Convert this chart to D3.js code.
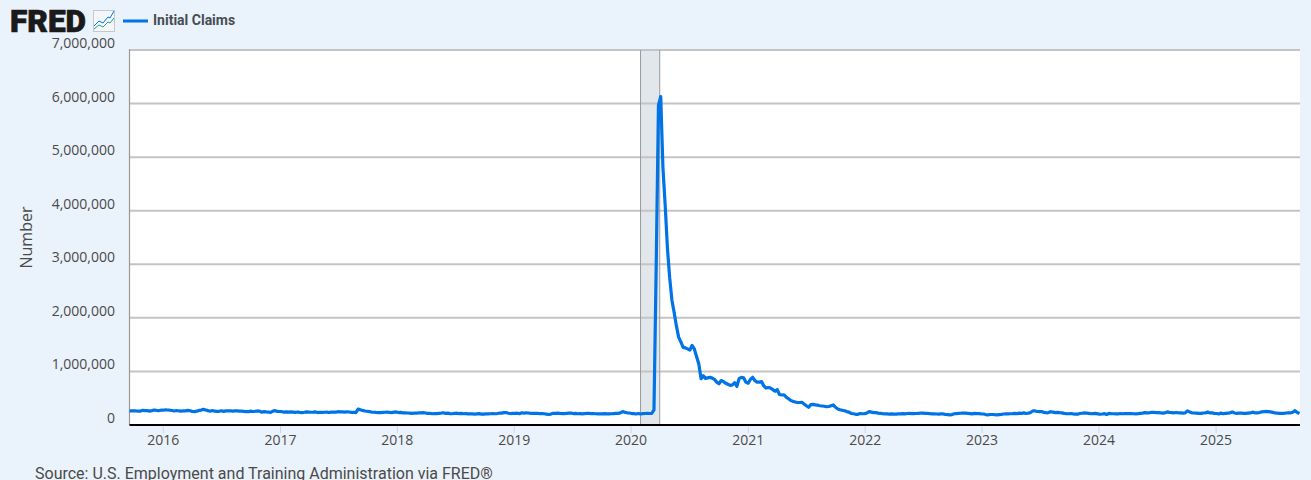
<!DOCTYPE html>
<html>
<head>
<meta charset="utf-8">
<script src="https://cdn.jsdelivr.net/npm/d3@7"></script>
<style>
html,body{margin:0;padding:0;background:#eaf2fb;overflow:hidden}
svg{display:block}
</style>
</head>
<body>
<svg id="chart" width="1311" height="480"></svg>
<script>
// Weekly initial claims in thousands. Each list starts on the year's first Saturday.
const weeks2015 = [265,262,266,262,259,260,274,270,268,260,268,280,272,266,276]; // from 19 Sep 2015
const weeks2016 = [276,282,280,276,270,262,270,262,258,262,264,274,266,254,250,258,272,278,292,280,268,258,270,258,254,256,266,254,264,262,266,260,262,262,258,258,254,250,248,258,252,256,262,258,238,250,244,240,236,258,268,254,252];
const weeks2017 = [248,240,246,240,244,240,236,242,236,232,238,246,242,238,240,244,232,238,234,238,240,234,240,242,240,248,244,246,240,248,242,236,238,232,298,284,272,262,256,250,242,238,234,232,230,236,238,242,234,232,240,244];
const weeks2018 = [232,236,226,228,224,222,218,222,222,226,228,230,224,216,218,210,212,212,218,222,228,218,222,212,210,216,220,212,216,210,212,208,208,206,204,208,212,204,204,208,208,210,212,210,214,220,222,232,232,220,214,216];
const weeks2019 = [216,220,212,228,222,226,224,218,216,216,216,214,212,210,204,196,204,218,216,222,216,212,212,216,220,222,214,218,210,212,208,212,216,218,214,212,210,208,206,208,212,208,206,210,214,218,218,226,250,236,228,224];
const weeks2020 = [214,212,205,215,205,212,215,219,215,215,282,3000,5970,6130,4800,4100,3300,2750,2330,2100,1850,1640,1550,1450,1440,1420,1400,1485,1420,1280,1140,864,920,870,880,890,875,850,800,770,830,810,780,760,740,750,790,720,870,890,880,800];
const weeks2021 = [780,850,890,830,800,800,810,730,690,700,690,660,630,660,570,560,565,520,490,460,440,430,420,420,425,390,360,330,380,385,375,370,360,355,350,340,345,360,375,330,300,285,275,265,250,240,215,210,200,200,215,210];
const weeks2022 = [210,226,250,240,230,232,222,218,212,208,208,204,206,202,204,206,208,212,208,215,218,212,214,215,218,220,222,216,218,214,208,210,205,204,208,206,198,194,190,194,210,214,218,220,224,220,216,212,208,216,214,212,208];
const weeks2023 = [205,195,190,196,196,192,190,194,198,205,206,206,210,212,216,210,222,218,226,215,222,232,262,262,252,250,250,235,228,232,248,240,230,236,230,226,216,212,210,214,208,204,202,214,220,226,222,218,210,214,216,208];
const weeks2024 = [200,205,212,196,216,212,210,208,206,214,210,212,214,212,212,210,208,212,218,222,230,226,228,238,235,232,232,228,222,226,244,236,232,228,234,228,226,222,226,264,244,228,224,220,216,216,224,224,242,226,226,218];
const weeks2025 = [215,206,222,210,216,220,226,244,224,218,222,224,218,216,222,226,240,228,226,232,244,248,254,250,244,236,226,222,218,216,218,224,226,228,238,268,234,216];

const yearStarts = ["2016-01-02","2017-01-07","2018-01-06","2019-01-05","2020-01-04","2021-01-02","2022-01-01","2023-01-07","2024-01-06","2025-01-04"];
const yearLists = [weeks2016,weeks2017,weeks2018,weeks2019,weeks2020,weeks2021,weeks2022,weeks2023,weeks2024,weeks2025];

const yTicks = [0,1000000,2000000,3000000,4000000,5000000,6000000,7000000];
const xTickYears = [2016,2017,2018,2019,2020,2021,2022,2023,2024,2025];
const recessionStart = "2020-02-01";
const recessionEnd = "2020-04-01";
const seriesName = "Initial Claims";
const yTitle = "Number";
const sourceText = "Source: U.S. Employment and Training Administration via FRED®";

const parse = d3.utcParse("%Y-%m-%d");
const rows = [];
weeks2015.forEach((v,i)=>rows.push({date:d3.utcWeek.offset(parse("2015-09-19"),i),value:v*1000}));
yearLists.forEach((list,k)=>list.forEach((v,i)=>rows.push({date:d3.utcWeek.offset(parse(yearStarts[k]),i),value:v*1000})));

const svg = d3.select("#chart");
const L=129.5,R=1299.5,T=50,B=425;
const x = d3.scaleUtc().domain([parse("2015-09-19"),parse("2025-09-20")]).range([L,R]);
const y = d3.scaleLinear().domain([0,7000000]).range([B,T]);
const tickFont = "'Open Sans',sans-serif", labelColor="#4a4a4a";

svg.append("rect").attr("x",L).attr("y",T).attr("width",R-L+.5).attr("height",B-T).attr("fill","#fff");

// recession band
svg.append("rect").attr("x",x(parse(recessionStart))).attr("y",T).attr("width",x(parse(recessionEnd))-x(parse(recessionStart))).attr("height",B-T)
  .attr("fill","#e2e7ec");

// y axis + grid
const yAxis = d3.axisLeft(y).tickValues(yTicks).tickSize(0).tickPadding(0).tickFormat(d3.format(","));
const gy = svg.append("g").attr("transform",`translate(${L},0)`).call(yAxis);
gy.select(".domain").remove();
gy.selectAll("text").attr("x",-14.5).attr("dy",0).attr("y",-2.5).attr("font-family",tickFont).attr("font-size",14).attr("fill",labelColor);
svg.append("g").selectAll("line").data(yTicks.filter(d=>d>0)).join("line")
  .attr("x1",L).attr("x2",R+.5).attr("y1",d=>y(d)).attr("y2",d=>y(d)).attr("stroke","#c4c4c4").attr("stroke-width",2);

// recession borders
svg.append("g").selectAll("line").data([recessionStart,recessionEnd]).join("line")
  .attr("x1",d=>x(parse(d))).attr("x2",d=>x(parse(d))).attr("y1",T).attr("y2",B).attr("stroke","#9a9a9a").attr("stroke-width",1);

// left edge
svg.append("line").attr("x1",L).attr("x2",L).attr("y1",T-1).attr("y2",B).attr("stroke","#999").attr("stroke-width",1.2);

// x axis
const xAxis = d3.axisBottom(x).tickValues(xTickYears.map(v=>new Date(Date.UTC(v,0,1)))).tickSize(8).tickPadding(2.5).tickFormat(d3.utcFormat("%Y"));
const gx = svg.append("g").attr("transform",`translate(0,${B})`).call(xAxis);
gx.select(".domain").remove();
gx.selectAll("line").attr("stroke","#ccd6e2").attr("stroke-width",1);
gx.selectAll("text").attr("font-family",tickFont).attr("font-size",14).attr("fill",labelColor);

// series
const line = d3.line().x(d=>x(d.date)).y(d=>y(d.value)).curve(d3.curveLinear);
svg.append("path").datum(rows).attr("d",line).attr("fill","none").attr("stroke","#0073e6").attr("stroke-width",3.2).attr("stroke-linejoin","round");

// baseline
svg.append("line").attr("x1",L).attr("x2",R+.5).attr("y1",B).attr("y2",B).attr("stroke","#000").attr("stroke-width",2);

// axis title
svg.append("text").attr("transform","translate(32,237.5) rotate(-90)").attr("text-anchor","middle")
  .attr("font-family",tickFont).attr("font-size",16).attr("fill",labelColor).text(yTitle);

// source
svg.append("text").attr("x",35).attr("y",479).attr("font-family","Roboto,sans-serif").attr("font-size",16).attr("fill","#4a4a4a").text(sourceText);

// legend
svg.append("line").attr("x1",123).attr("x2",148).attr("y1",21).attr("y2",21).attr("stroke","#0073e6").attr("stroke-width",3);
svg.append("text").attr("x",153).attr("y",25).attr("font-family","Roboto,sans-serif").attr("font-weight",700).attr("font-size",14).attr("fill","#474d52").text(seriesName);

// logo
svg.append("text").attr("x",10).attr("y",32).attr("font-family","Roboto,sans-serif").attr("font-weight",900).attr("font-size",31).attr("fill","#1a1a1a").attr("stroke","#1a1a1a").attr("stroke-width",.7)
  .attr("textLength",76).attr("lengthAdjust","spacingAndGlyphs").text("FRED");
svg.append("rect").attr("x",93.5).attr("y",10.5).attr("width",21).attr("height",21).attr("fill","#f4f7fa").attr("stroke","#c8c8c8");
const iconBlue=[[94,26],[99,21],[103,23],[108,17],[110,18],[114,11]];
const iconGreen=[[94,29],[99,25],[103,27],[108,22],[110,23],[114,18]];
[[iconBlue,"#0073e6"],[iconGreen,"#2a9d8f"]].forEach(([pts,c])=>svg.append("path").attr("d",d3.line()(pts)).attr("fill","none").attr("stroke",c).attr("stroke-width",1));
</script>
</body>
</html>
